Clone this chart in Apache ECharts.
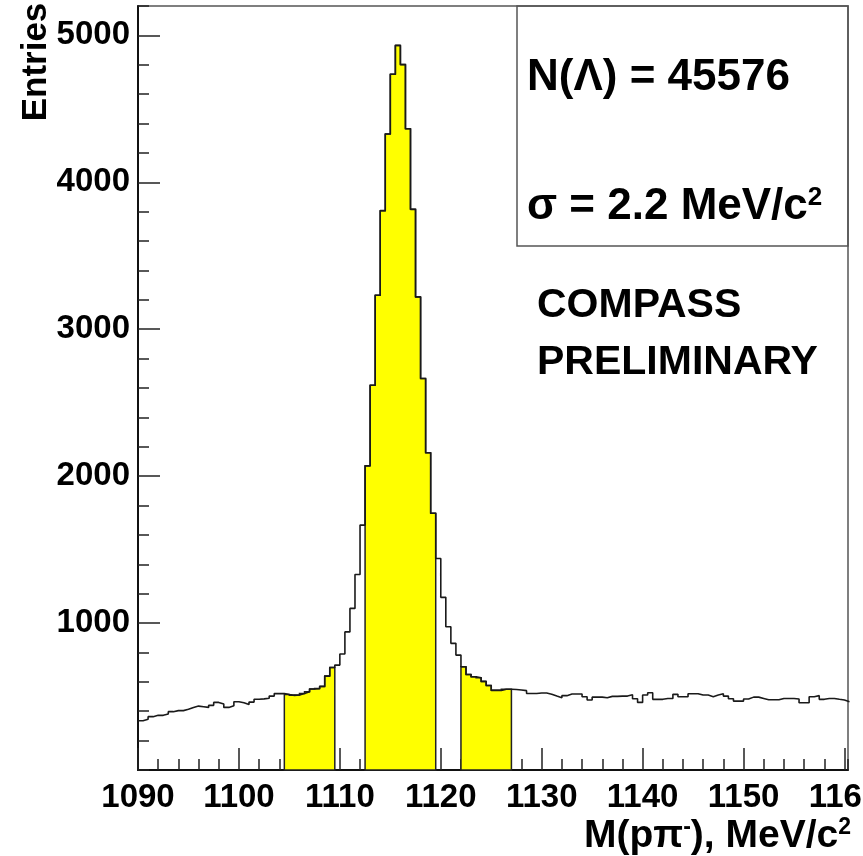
<!DOCTYPE html>
<html>
<head>
<meta charset="utf-8">
<script src="https://cdn.jsdelivr.net/npm/echarts@6/dist/echarts.min.js"></script>
<style>
  html, body { margin: 0; padding: 0; background: #fff; }
  #chart { width: 863px; height: 856px; }
</style>
</head>
<body>
<div id="chart"></div>
<script>
// M(p pi-) histogram, 0.5 MeV bins starting at 1090
const binStart = 1090;
const binWidth = 0.5;
const entries = [
  335, 345, 363, 372, 372, 381, 397, 404, 404, 413,
  426, 435, 431, 426, 440, 460, 449, 426, 438, 465,
  458, 446, 462, 482, 484, 488, 503, 520, 521, 514,
  508, 511, 520, 533, 551, 554, 569, 639, 698, 714,
  790, 940, 1100, 1331, 1667, 2070, 2619, 3231, 3807, 4329,
  4735, 4932, 4801, 4365, 3816, 3220, 2665, 2159, 1748, 1440,
  1175, 975, 862, 782, 703, 650, 635, 628, 603, 575,
  542, 542, 550, 550, 548, 545, 540, 521, 521, 524,
  524, 515, 503, 492, 506, 517, 517, 517, 499, 476,
  496, 496, 492, 501, 501, 503, 503, 512, 485, 460,
  510, 526, 481, 481, 487, 487, 515, 499, 499, 519,
  519, 510, 510, 499, 510, 519, 503, 485, 469, 469,
  483, 496, 496, 487, 478, 478, 478, 487, 487, 487,
  483, 458, 458, 499, 506, 481, 487, 487, 481, 476,
  465
];
// signal window and the two side bands (filled yellow)
const yellowRanges = [[1104.5, 1109.5], [1112.5, 1119.5], [1122, 1127]];

const xMin = 1090, xMax = 1160.35, xMajor = 10, xMinor = 2;
const yMin = 0, yMax = 5200, yMajor = 1000, yMinor = 200;

const font = '"Liberation Sans", Arial, Helvetica, sans-serif';

const lineData = entries.map((v, i) => [binStart + i * binWidth, v]);
lineData.push([binStart + entries.length * binWidth, entries[entries.length - 1]]);

const chart = echarts.init(document.getElementById('chart'));

const tickStyle = { color: '#222', width: 1.5 };

chart.setOption({
  animation: false,
  grid: {
    left: 138, top: 6, width: 710, height: 764,
    containLabel: false, outerBoundsMode: 'none',
    show: true, borderColor: '#555', borderWidth: 1.5, backgroundColor: 'transparent'
  },
  xAxis: [
    { // minor ticks
      type: 'value', position: 'bottom', min: xMin, max: xMax, interval: xMinor,
      axisLine: { show: false, onZero: false },
      axisTick: { show: true, inside: true, length: 11, lineStyle: tickStyle },
      axisLabel: { show: false },
      splitLine: { show: false }
    },
    { // major ticks + labels
      type: 'value', position: 'bottom', min: xMin, max: xMax, interval: xMajor,
      axisLine: { show: true, onZero: false, lineStyle: { color: '#111', width: 2 } },
      axisTick: { show: true, inside: true, length: 22, lineStyle: tickStyle },
      axisLabel: {
        margin: 11, fontSize: 33, fontWeight: 'bold', fontFamily: font, color: '#000',
        showMaxLabel: false,
        formatter: v => (Math.abs(v % xMajor) < 1e-6 ? String(v) : '')
      },
      splitLine: { show: false }
    }
  ],
  yAxis: [
    {
      type: 'value', position: 'left', min: yMin, max: yMax, interval: yMinor,
      axisLine: { show: false, onZero: false },
      axisTick: { show: true, inside: true, length: 11, lineStyle: tickStyle },
      axisLabel: { show: false },
      splitLine: { show: false }
    },
    {
      type: 'value', position: 'left', min: yMin, max: yMax, interval: yMajor,
      axisLine: { show: true, onZero: false, lineStyle: { color: '#111', width: 2 } },
      axisTick: { show: true, inside: true, length: 22, lineStyle: tickStyle },
      axisLabel: {
        margin: 8, fontSize: 33, fontWeight: 'bold', fontFamily: font, color: '#000',
        showMinLabel: false, showMaxLabel: false,
        formatter: v => (v > 0 && v % yMajor === 0 ? String(v) : '')
      },
      splitLine: { show: false }
    }
  ],
  series: [
    {
      type: 'custom',
      xAxisIndex: 0, yAxisIndex: 0,
      z: 2,
      data: yellowRanges.map(r => [r[0], r[1], 0]),
      encode: { x: [0, 1], y: 2 },
      renderItem: (params, api) => {
        const lo = api.value(0), hi = api.value(1);
        const pts = [api.coord([lo, 0])];
        entries.forEach((v, i) => {
          const a = binStart + i * binWidth, b = a + binWidth;
          if (a >= lo - 1e-6 && b <= hi + 1e-6) {
            pts.push(api.coord([a, v]), api.coord([b, v]));
          }
        });
        pts.push(api.coord([hi, 0]));
        return {
          type: 'polygon',
          shape: { points: pts },
          style: { fill: '#ffff00', stroke: '#222', lineWidth: 1.5 }
        };
      }
    },
    {
      type: 'line',
      xAxisIndex: 0, yAxisIndex: 0,
      step: 'end',
      data: lineData,
      symbol: 'none',
      showSymbol: false,
      z: 3,
      lineStyle: { color: '#1a1a1a', width: 1.6 }
    }
  ],
  graphic: [
    {
      type: 'rect', z: 10,
      shape: { x: 517, y: 6, width: 331, height: 240 },
      style: { fill: 'transparent', stroke: '#555', lineWidth: 1.5 }
    },
    {
      type: 'text', z: 10, x: 36, y: 62, rotation: Math.PI / 2,
      style: {
        text: 'Entries', fontSize: 35, fontWeight: 'bold', fontFamily: font, fill: '#000',
        textAlign: 'center', align: 'center', textVerticalAlign: 'middle', verticalAlign: 'middle'
      }
    },
    {
      type: 'text', z: 10, x: 851, y: 836,
      style: {
        text: '{a|M(p\u03c0}{s|-}{a|), MeV/c}{s|2}',
        fontFamily: font, fontWeight: 'bold', fontSize: 39, fill: '#000',
        textAlign: 'right', align: 'right', textVerticalAlign: 'middle', verticalAlign: 'middle',
        rich: {
          a: { fontSize: 39, fontWeight: 'bold', fontFamily: font, verticalAlign: 'bottom' },
          s: { fontSize: 23, fontWeight: 'bold', fontFamily: font, verticalAlign: 'top' }
        }
      }
    },
    {
      type: 'text', z: 10, x: 527, y: 78,
      style: {
        text: 'N(\u039b) = 45576', fontSize: 44, fontWeight: 'bold', fontFamily: font, fill: '#000',
        textAlign: 'left', align: 'left', textVerticalAlign: 'middle', verticalAlign: 'middle'
      }
    },
    {
      type: 'text', z: 10, x: 527, y: 207,
      style: {
        text: '{a|\u03c3 = 2.2 MeV/c}{s|2}',
        fontFamily: font, fontWeight: 'bold', fontSize: 44, fill: '#000',
        textAlign: 'left', align: 'left', textVerticalAlign: 'middle', verticalAlign: 'middle',
        rich: {
          a: { fontSize: 44, fontWeight: 'bold', fontFamily: font, verticalAlign: 'bottom' },
          s: { fontSize: 26, fontWeight: 'bold', fontFamily: font, verticalAlign: 'top' }
        }
      }
    },
    {
      type: 'text', z: 10, x: 537, y: 306,
      style: {
        text: 'COMPASS', fontSize: 41, fontWeight: 'bold', fontFamily: font, fill: '#000',
        textAlign: 'left', align: 'left', textVerticalAlign: 'middle', verticalAlign: 'middle'
      }
    },
    {
      type: 'text', z: 10, x: 537, y: 363,
      style: {
        text: 'PRELIMINARY', fontSize: 41, fontWeight: 'bold', fontFamily: font, fill: '#000',
        textAlign: 'left', align: 'left', textVerticalAlign: 'middle', verticalAlign: 'middle'
      }
    }
  ]
});
</script>
</body>
</html>
